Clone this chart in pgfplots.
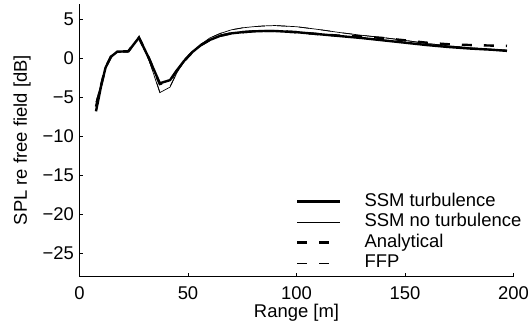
\documentclass[border=0pt]{standalone}
\usepackage{pgfplots}
\pgfplotsset{compat=1.18}
\usepackage{fontspec}
\setmainfont{Liberation Sans}
\begin{document}
\begin{tikzpicture}[font=\fontsize{18.5}{22}\selectfont]
\useasboundingbox (-79.5bp,-52.3bp) rectangle (451.5bp,276.7bp);
\begin{axis}[
 at={(0,0)}, anchor=south west,
 scale only axis, width=434bp, height=273bp,
 xmin=0, xmax=200, ymin=-28, ymax=7,
 axis lines*=left,
 axis line style={line width=0.6bp},
 tick align=inside, major tick length=4bp,
 tick style={line width=0.6bp, black},
 xtick={0,50,100,150,200}, xticklabels={0,50,100,150,200},
 ytick={-25,-20,-15,-10,-5,0,5}, yticklabels={−25,−20,−15,−10,−5,0,5},
 tick label style={font=\fontsize{18.5}{22}\selectfont},
 xticklabel style={anchor=north, inner sep=0pt, yshift=-9.3bp},
 yticklabel style={anchor=east, inner sep=0pt, xshift=-5.5bp},
 label style={font=\fontsize{18.5}{22}\selectfont},
 xlabel={Range [m]}, ylabel={SPL re free field [dB]},
 xlabel style={at={(axis description cs:0.5,-0.133)}, anchor=center, inner sep=0pt},
 ylabel style={at={(axis description cs:-0.1325,0.5)}, anchor=center, inner sep=0pt},
 legend style={at={(axis description cs:0.4988,0.310)}, anchor=north west, draw=none, fill=none,
   font=\fontsize{18.5}{22}\selectfont, inner sep=0pt, row sep=2bp,
   nodes={inner sep=0pt, text height=13.9bp, text depth=4.6bp},
   /tikz/every odd column/.append style={column sep=23bp}},
 legend cell align=left,
 legend image code/.code={\draw[#1] (0bp,0bp) -- (43bp,0bp);},
]
\addplot[black, line width=2.4bp] coordinates {
(7.6,-6.8)(10,-3.5)(12,-1.2)(14.5,0.2)(17.4,0.85)(22.5,0.9)(27.4,2.65)(32,0)(37,-3.2)(41.7,-2.8)(45,-1.5)(48,-0.4)(52,0.8)(56,1.7)(60,2.35)(65,2.9)(70,3.2)(75,3.35)(80,3.45)(85,3.5)(90,3.5)(100,3.35)(110,3.1)(120,2.85)(130,2.6)(140,2.3)(150,2.0)(160,1.7)(170,1.45)(180,1.25)(190,1.1)(197,0.95)};
\addlegendentry{SSM turbulence}
\addplot[black, line width=0.7bp] coordinates {
(7.6,-5.6)(10,-3.2)(12,-1.1)(14.5,0.2)(17.4,0.8)(22.5,0.85)(27.4,2.6)(32,-0.2)(37,-4.4)(41.7,-3.7)(45,-1.8)(48,-0.5)(52,0.8)(56,1.8)(60,2.6)(65,3.2)(70,3.65)(75,3.9)(80,4.05)(85,4.15)(90,4.2)(100,4.05)(110,3.7)(120,3.3)(130,2.95)(140,2.65)(150,2.3)(160,1.9)(170,1.6)(180,1.35)(190,1.15)(197,1.05)};
\addlegendentry{SSM no turbulence}
\addplot[black, line width=2.4bp, dash pattern=on 10bp off 12bp] coordinates {
(7.6,-6.2)(10,-3.4)(12,-1.15)(14.5,0.2)(17.4,0.85)(22.5,0.9)(27.4,2.65)(32,0)(37,-3.3)(41.7,-2.9)(45,-1.5)(48,-0.4)(52,0.8)(56,1.7)(60,2.35)(65,2.9)(70,3.2)(75,3.35)(80,3.45)(85,3.5)(90,3.5)(100,3.35)(110,3.1)(120,2.9)(130,2.8)(140,2.6)(150,2.3)(160,2.0)(170,1.8)(180,1.7)(190,1.63)(197,1.6)};
\addlegendentry{Analytical}
\addplot[black, line width=0.7bp, dash pattern=on 10bp off 12bp] coordinates {
(7.6,-5.6)(10,-3.2)(12,-1.1)(14.5,0.2)(17.4,0.8)(22.5,0.85)(27.4,2.6)(32,-0.2)(37,-4.3)(41.7,-3.6)(45,-1.8)(48,-0.5)(52,0.8)(56,1.8)(60,2.6)(65,3.2)(70,3.65)(75,3.9)(80,4.05)(85,4.15)(90,4.2)(100,4.05)(110,3.7)(120,3.3)(130,2.95)(140,2.65)(150,2.3)(160,1.9)(170,1.6)(180,1.35)(190,1.15)(197,1.05)};
\addlegendentry{FFP}
\end{axis}
\end{tikzpicture}
\end{document}
